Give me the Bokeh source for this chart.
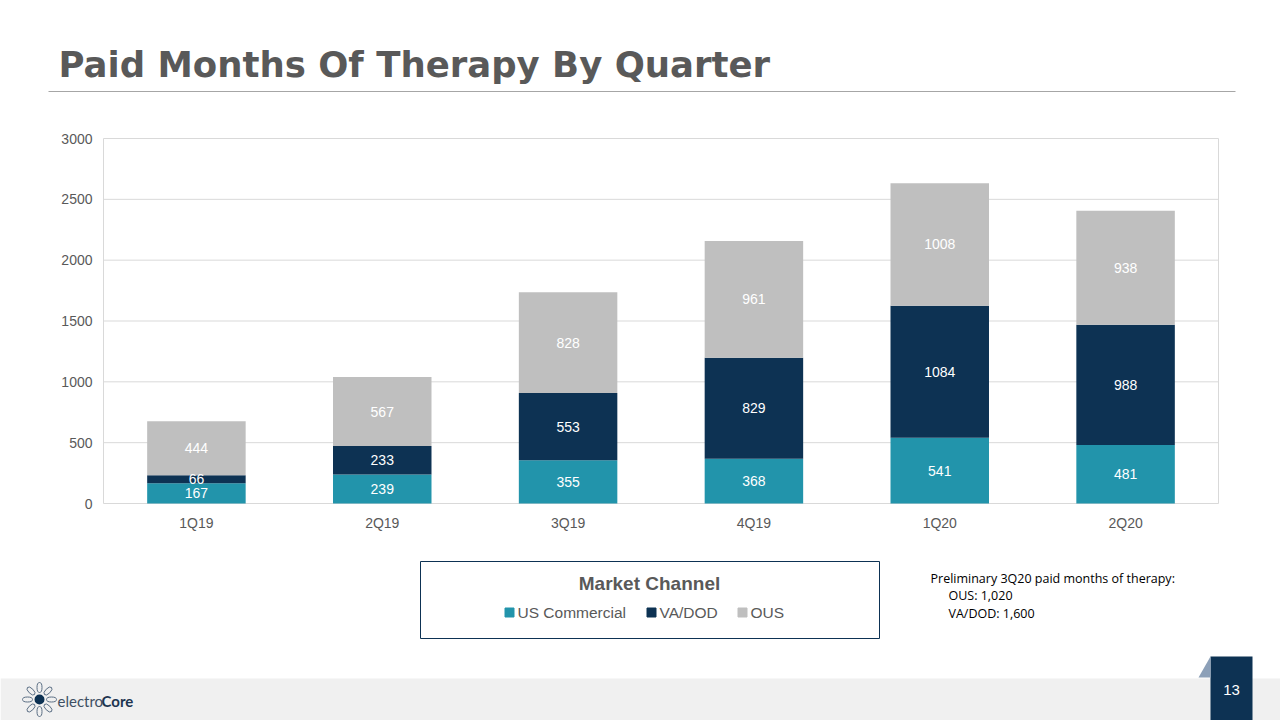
import math
from bokeh.plotting import figure
from bokeh.models import ColumnDataSource, Range1d
from bokeh.core.properties import value
from bokeh.embed import file_html
from bokeh.resources import INLINE

quarters = ["1Q19", "2Q19", "3Q19", "4Q19", "1Q20", "2Q20"]
us_commercial = [167, 239, 355, 368, 541, 481]
va_dod = [66, 233, 553, 829, 1084, 988]
ous = [444, 567, 828, 961, 1008, 938]
series_names = ["US Commercial", "VA/DOD", "OUS"]
colors = ["#2294AB", "#0D3253", "#BFBFBF"]
y_ticks = [0, 500, 1000, 1500, 2000, 2500, 3000]

W, H = 1280, 720
PX0, PX1, PY0, PY1 = 103, 1218, 503, 138  # PY0 -> value 0, PY1 -> value 3000
ux = (PX1 - PX0) / len(quarters)
uy = (PY0 - PY1) / 3000.0
cx_start = -PX0 / ux
cy_start = -(H - PY0) / uy

p = figure(x_range=Range1d(0, W), y_range=Range1d(H, 0), width=W, height=H,
           output_backend="svg", toolbar_location=None, min_border=0,
           x_axis_location=None, y_axis_location=None)
p.extra_x_ranges = {"cx": Range1d(cx_start, cx_start + W / ux)}
p.extra_y_ranges = {"cy": Range1d(cy_start, cy_start + H / uy)}
p.outline_line_color = None
p.grid.grid_line_color = None

xi = [i + 0.5 for i in range(len(quarters))]

# grid lines and plot-area frame
p.segment(x0=[0] * len(y_ticks), x1=[len(quarters)] * len(y_ticks), y0=y_ticks, y1=y_ticks,
          x_range_name="cx", y_range_name="cy", line_color="#D9D9D9", line_width=1)
p.segment(x0=[0, len(quarters)], x1=[0, len(quarters)], y0=[0, 0], y1=[y_ticks[-1]] * 2,
          x_range_name="cx", y_range_name="cy", line_color="#D9D9D9", line_width=1)

src = ColumnDataSource(dict(x=xi, q=quarters, us=us_commercial, va=va_dod, ous=ous))
p.vbar_stack(["us", "va", "ous"], x="x", width=0.53, color=colors, source=src, line_color=None,
             x_range_name="cx", y_range_name="cy")

bot3 = [a + b for a, b in zip(us_commercial, va_dod)]
lab = ColumnDataSource(dict(
    x=xi * 3,
    y=[v / 2 for v in us_commercial] + [b + v / 2 for b, v in zip(us_commercial, va_dod)] + [b + v / 2 for b, v in zip(bot3, ous)],
    t=[str(v) for v in us_commercial + va_dod + ous]))
p.text(x="x", y="y", text="t", source=lab, x_range_name="cx", y_range_name="cy",
       text_color="white", text_font=value("Liberation Sans"), text_font_size="14px",
       text_align="center", text_baseline="middle")

# axis tick labels
p.text(x=[0] * len(y_ticks), y=y_ticks, text=[str(v) for v in y_ticks], x_range_name="cx", y_range_name="cy",
       x_offset=-11, text_align="right", text_baseline="middle", text_color="#595959",
       text_font=value("Liberation Sans"), text_font_size="14px")
p.text(x=xi, y=[0] * len(quarters), text=quarters, x_range_name="cx", y_range_name="cy",
       y_offset=19, text_align="center", text_baseline="middle", text_color="#595959",
       text_font=value("Liberation Sans"), text_font_size="14px")

# legend box
p.quad(left=420, right=879, top=561, bottom=638, fill_color="white", line_color="#0D3253", line_width=1)
p.text(x=[649], y=[583], text=["Market Channel"], text_align="center", text_baseline="middle",
       text_color="#595959", text_font=value("Liberation Sans"), text_font_size="19px", text_font_style="bold")
leg_x = [517, 659, 750]
p.rect(x=[v - 8 for v in leg_x], y=[612] * 3, width=9, height=9, color=colors)
p.text(x=leg_x, y=[612] * 3, text=series_names, text_align="left", text_baseline="middle",
       text_color="#595959", text_font=value("Liberation Sans"), text_font_size="15.5px")

# slide decorations
p.text(x=[58], y=[64], text=["Paid Months Of Therapy By Quarter"], text_baseline="middle",
       text_color="#595959", text_font=value("DejaVu Sans"), text_font_size="35.5px", text_font_style="bold")
p.segment(x0=[48], x1=[1235], y0=[91], y1=[91], line_color="#A6A6A6", line_width=1)
p.text(x=[930, 948, 948], y=[578, 595, 613],
       text=["Preliminary 3Q20 paid months of therapy:", "OUS: 1,020", "VA/DOD: 1,600"],
       text_baseline="middle", text_color="#000000", text_font=value("Open Sans"), text_font_size="12.5px")
p.quad(left=0, right=1280, top=678, bottom=720, fill_color="#F0F0F0", line_color=None)
p.quad(left=1210, right=1252, top=656, bottom=720, fill_color="#0D3253", line_color=None)
p.patch(x=[1198, 1210, 1210], y=[677, 677, 656], fill_color="#8CA0B8", line_color=None)
p.text(x=[1231], y=[689], text=["13"], text_align="center", text_baseline="middle",
       text_color="white", text_font=value("Liberation Sans"), text_font_size="15px")
# logo
p.scatter(x=[39], y=[699], size=10, fill_color="#0D3253", line_color=None)
ang = [i * math.pi / 4 for i in range(8)]
p.ellipse(x=[39 + 12 * math.cos(a) for a in ang], y=[699 + 12 * math.sin(a) for a in ang],
          width=10, height=5, angle=[-a for a in ang], fill_color=None, line_color="#5A6E84", line_width=1)
p.text(x=[57], y=[700], text=["electro"], text_baseline="middle", text_color="#3E4F63",
       text_font=value("Lato"), text_font_size="15px")
p.text(x=[101], y=[700], text=["Core"], text_baseline="middle", text_color="#1E3550",
       text_font=value("Lato"), text_font_size="15px", text_font_style="bold")

open("out.html", "w").write(file_html(p, INLINE))
